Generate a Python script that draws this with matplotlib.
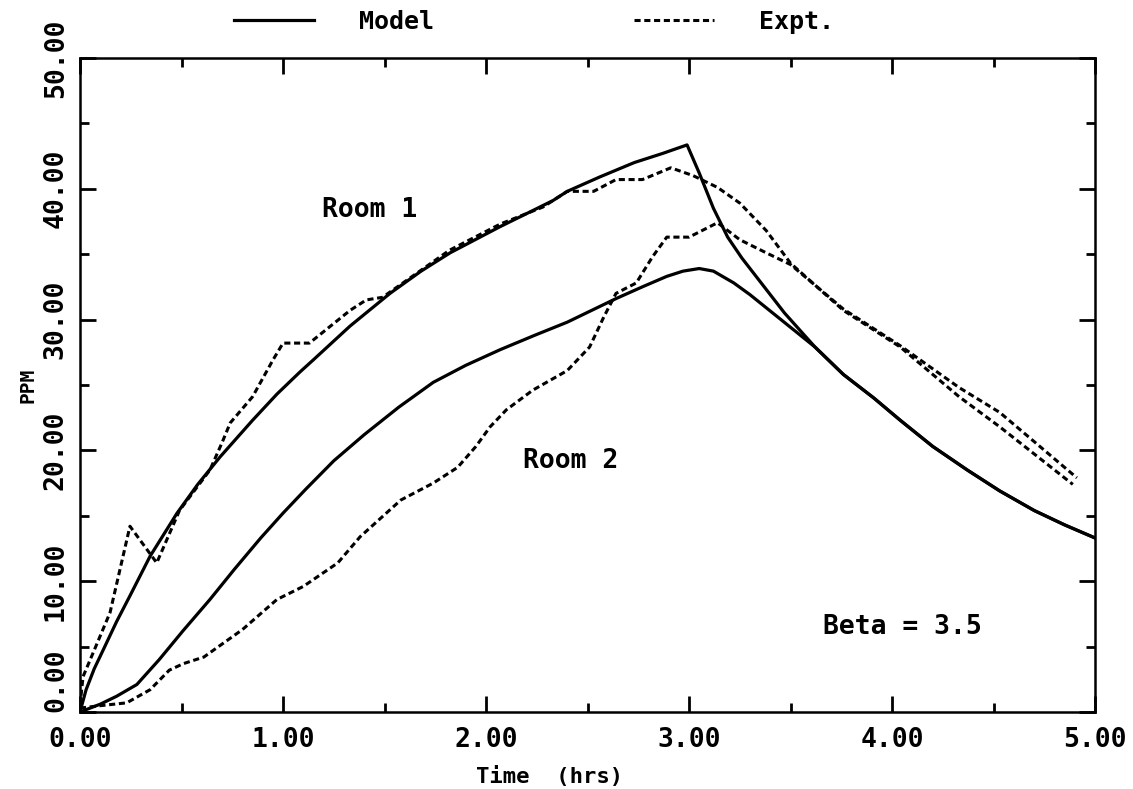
import matplotlib.pyplot as plt
import numpy as np

# Room 1 / Room 2, model and experiment (time in hrs, PPM)
model1_t = [0.0, 0.03, 0.07, 0.113, 0.18, 0.25, 0.345, 0.478, 0.58, 0.69, 0.85, 0.97, 1.084,
            1.148, 1.33, 1.527, 1.68, 1.823, 2.069, 2.2, 2.33, 2.40, 2.56, 2.73, 2.87, 2.99,
            3.05, 3.12, 3.19, 3.26, 3.33, 3.47, 3.62, 3.76, 3.91, 4.04, 4.2, 4.37, 4.53,
            4.70, 4.85, 5.0]
model1_v = [0.0, 1.7, 3.3, 4.7, 6.9, 9.0, 11.9, 15.2, 17.4, 19.5, 22.3, 24.3, 26.0,
            26.9, 29.5, 32.0, 33.7, 35.1, 37.1, 38.1, 39.1, 39.8, 40.9, 42.0, 42.7, 43.35,
            41.2, 38.5, 36.3, 34.7, 33.3, 30.5, 27.9, 25.8, 24.0, 22.3, 20.3, 18.5, 16.9,
            15.4, 14.3, 13.3]

model2_t = [0.0, 0.1, 0.18, 0.28, 0.39, 0.507, 0.64, 0.76, 0.89, 1.0, 1.11, 1.25, 1.40,
            1.57, 1.74, 1.9, 2.07, 2.24, 2.40, 2.52, 2.64, 2.77, 2.89, 2.97, 3.05, 3.12,
            3.22, 3.30, 3.38, 3.5, 3.62, 3.76, 3.91, 4.04, 4.2, 4.37, 4.53, 4.70, 4.85, 5.0]
model2_v = [0.0, 0.6, 1.2, 2.1, 4.0, 6.2, 8.6, 10.9, 13.3, 15.2, 17.0, 19.2, 21.2,
            23.3, 25.2, 26.5, 27.7, 28.8, 29.8, 30.7, 31.6, 32.5, 33.3, 33.7, 33.9, 33.7,
            32.8, 31.9, 30.9, 29.4, 27.9, 25.8, 24.0, 22.3, 20.3, 18.5, 16.9, 15.4, 14.3, 13.3]

expt1_t = [0.0, 0.015, 0.064, 0.148, 0.246, 0.378, 0.49, 0.64, 0.70, 0.74, 0.85, 0.95,
           1.0, 1.13, 1.33, 1.41, 1.49, 1.82, 2.07, 2.28, 2.40, 2.53, 2.64, 2.77, 2.91,
           3.02, 3.14, 3.25, 3.38, 3.50, 3.76, 4.04, 4.33, 4.53, 4.89]
expt1_v = [0.5, 2.7, 4.5, 7.6, 14.2, 11.4, 15.4, 18.5, 20.6, 22.1, 24.1, 26.9,
           28.2, 28.2, 30.7, 31.5, 31.7, 35.3, 37.3, 38.6, 39.8, 39.8, 40.7, 40.7, 41.6,
           41.0, 40.1, 38.9, 36.8, 34.3, 30.7, 27.9, 24.1, 21.8, 17.4]

expt2_t = [0.0, 0.11, 0.23, 0.345, 0.44, 0.51, 0.61, 0.80, 0.97, 1.10, 1.27, 1.38, 1.58,
           1.74, 1.86, 1.95, 2.02, 2.10, 2.23, 2.40, 2.51, 2.58, 2.64, 2.74, 2.82, 2.89,
           3.0, 3.14, 3.25, 3.38, 3.50, 3.76, 4.04, 4.33, 4.53, 4.91]
expt2_v = [0.3, 0.5, 0.7, 1.7, 3.2, 3.7, 4.2, 6.3, 8.6, 9.6, 11.4, 13.4, 16.2,
           17.5, 18.7, 20.3, 21.8, 23.1, 24.6, 26.1, 27.9, 30.2, 32.0, 32.8, 34.8, 36.3,
           36.3, 37.4, 36.1, 35.1, 34.2, 30.8, 28.0, 24.8, 22.9, 17.9]

x_ticks = [0, 1, 2, 3, 4, 5]
y_ticks = [0, 10, 20, 30, 40, 50]

FONT = 'DejaVu Sans Mono'
plt.rcParams['font.family'] = FONT
plt.rcParams['font.weight'] = 'bold'

fig = plt.figure(figsize=(11.33, 7.89), dpi=100)
ax = fig.add_axes([0.0706, 0.0976, 0.896, 0.829])

dash = (0, (2.0, 1.2))
ax.plot(model1_t, model1_v, color='black', lw=2.3, label='Model')
ax.plot(model2_t, model2_v, color='black', lw=2.3)
ax.plot(expt1_t, expt1_v, color='black', lw=2.2, linestyle=dash, label='Expt.')
ax.plot(expt2_t, expt2_v, color='black', lw=2.2, linestyle=dash)

ax.set_xlim(0, 5)
ax.set_ylim(0, 50)
ax.set_xticks(x_ticks)
ax.set_xticklabels(['%.2f' % t for t in x_ticks], fontsize=19, fontweight='bold')
ax.set_xticks(np.arange(0.5, 5, 1.0), minor=True)
ax.set_yticks(y_ticks)
ax.set_yticklabels(['%.2f' % v for v in y_ticks], fontsize=19, fontweight='bold',
                   rotation=90, va='center')
ax.set_yticks(np.arange(5, 50, 10), minor=True)
ax.get_yticklabels()[0].set_va('bottom')

ax.tick_params(which='both', direction='in', top=True, right=True, width=2)
ax.tick_params(which='major', length=11.5)
ax.tick_params(which='minor', length=6.5)
ax.tick_params(axis='x', pad=11)
ax.tick_params(axis='y', pad=8)
for s in ax.spines.values():
    s.set_linewidth(1.8)

ax.set_xlabel('Time  (hrs)', fontsize=16, fontweight='bold')
ax.xaxis.set_label_coords(0.463, -0.082)
ax.set_ylabel('PPM', fontsize=14, fontweight='bold', labelpad=4)

ax.text(1.19, 38.4, 'Room 1', fontsize=19, fontweight='bold', va='center')
ax.text(2.18, 19.2, 'Room 2', fontsize=19, fontweight='bold', va='center')
ax.text(3.66, 6.5, 'Beta = 3.5', fontsize=19, fontweight='bold', va='center')

fig.legend(loc='center', bbox_to_anchor=(0.471, 1 - 22 / 789), ncol=2, frameon=False,
           prop={'family': FONT, 'weight': 'bold', 'size': 18},
           handlelength=3.2, handletextpad=1.8, columnspacing=8.0)

plt.savefig('out.png', dpi=100)
